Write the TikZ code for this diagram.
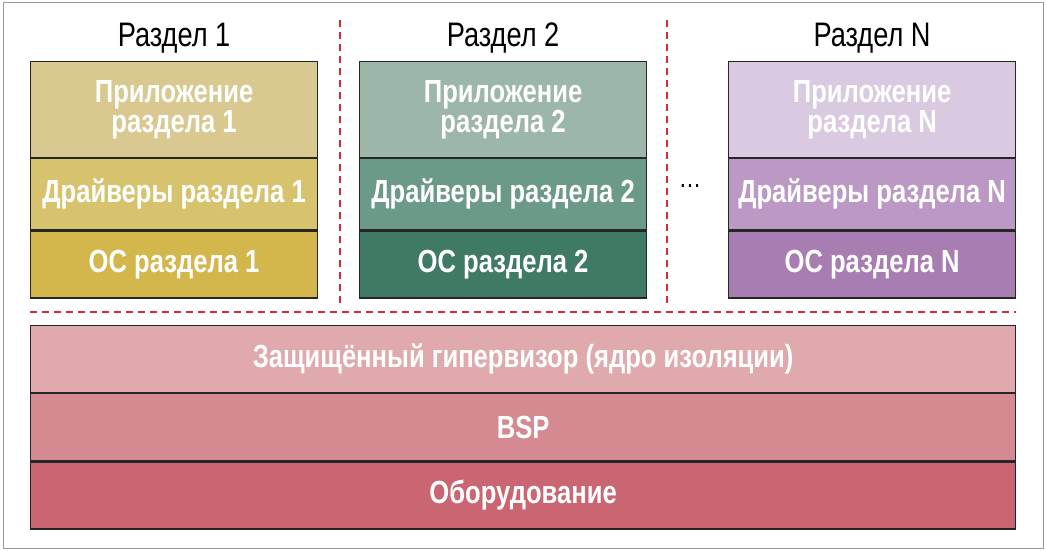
\documentclass[tikz,border=0pt]{standalone}
\usepackage{fontspec}
\setmainfont{Liberation Sans}[FakeStretch=0.8]
\usetikzlibrary{positioning}
\definecolor{appA}{HTML}{D9C991}
\definecolor{drvA}{HTML}{D7C36E}
\definecolor{osA}{HTML}{D3B64C}
\definecolor{appB}{HTML}{9CB6A9}
\definecolor{drvB}{HTML}{6C9A88}
\definecolor{osB}{HTML}{3F7A65}
\definecolor{appC}{HTML}{DACAE1}
\definecolor{drvC}{HTML}{BC99C4}
\definecolor{osC}{HTML}{A87DB2}
\definecolor{hypC}{HTML}{DFA9AD}
\definecolor{bspC}{HTML}{D48A90}
\definecolor{hwC}{HTML}{C96672}
\definecolor{sepred}{HTML}{D8283A}
\begin{document}
\begin{tikzpicture}[x=1pt,y=-1pt,
    layer/.style={draw=black!85, line width=1.2pt, inner sep=0pt, font=\fontsize{32}{34}\selectfont\bfseries, text=white, align=center},
    title/.style={font=\fontsize{34}{36}\selectfont},
    sep/.style={draw=sepred, dashed, line width=1.3pt, dash pattern=on 7pt off 5pt}
    ]
    \useasboundingbox (0,0) rectangle (1046,551);
    \draw[black!40, line width=1pt] (3,3) rectangle (1043,548);

    % Partitions
    \foreach \c/\x/\n in {A/30/1, B/359/2, C/728/N} {
        \node[layer, fill=app\c, minimum width=287pt, minimum height=96pt, anchor=north west] (app\c) at (\x,61) {Приложение\\[-4pt]раздела \n};
        \node[layer, fill=drv\c, minimum width=287pt, minimum height=71pt, below=0pt of app\c] (drv\c) {Драйверы раздела \n};
        \node[layer, fill=os\c, minimum width=287pt, minimum height=67pt, below=0pt of drv\c] (os\c) {ОС раздела \n};
        \node[title, above=4pt of app\c] (title\c) {Раздел \n};
    }
    \node[font=\fontsize{28}{30}\selectfont] (dots) at (690,186) {\dots};

    % Separators
    \coordinate (s1t) at (340,20); \coordinate (s1b) at (340,305);
    \coordinate (s2t) at (667,20); \coordinate (s2b) at (667,305);
    \coordinate (hl) at (30,312); \coordinate (hr) at (1016,312);
    \draw[sep] (s1t) -- (s1b);
    \draw[sep] (s2t) -- (s2b);
    \draw[sep] (hl) -- (hr);

    % Common layers
    \node[layer, fill=hypC, minimum width=985pt, minimum height=67pt, anchor=north west] (hyp) at (30,325) {Защищённый гипервизор (ядро изоляции)};
    \node[layer, fill=bspC, minimum width=985pt, minimum height=67pt, below=0pt of hyp] (bsp) {BSP};
    \node[layer, fill=hwC, minimum width=985pt, minimum height=67pt, below=0pt of bsp] (hw) {Оборудование};
\end{tikzpicture}
\end{document}
